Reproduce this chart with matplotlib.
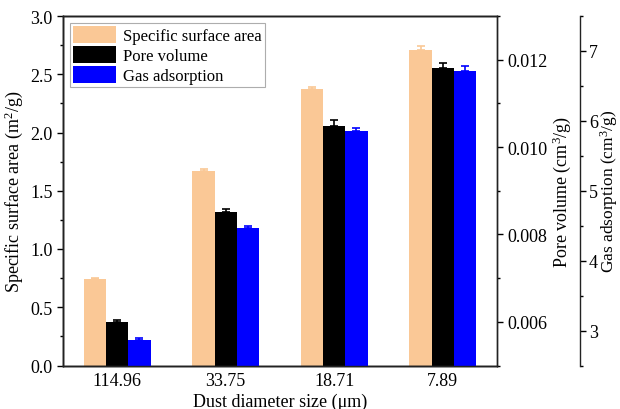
import matplotlib
matplotlib.use("Agg")
import matplotlib.pyplot as plt
from matplotlib.ticker import MultipleLocator
import numpy as np

plt.rcParams['font.family'] = ['Liberation Serif', 'DejaVu Serif']
plt.rcParams['mathtext.fontset'] = 'custom'
plt.rcParams['mathtext.rm'] = 'Liberation Serif'
plt.rcParams['mathtext.it'] = 'Liberation Serif:italic'

categories = ['114.96', '33.75', '18.71', '7.89']
surface_area = [0.746, 1.671, 2.371, 2.711]
surface_err = [0.005, 0.015, 0.022, 0.030]
pore_volume = [0.00599, 0.00851, 0.01049, 0.01180]
pore_err = [0.00006, 0.00008, 0.00012, 0.00013]
gas_adsorption = [2.86, 4.46, 5.85, 6.72]
gas_err = [0.03, 0.04, 0.05, 0.066]

c_orange = '#FAC896'
c_black = '#000000'
c_blue = '#0000FF'

fig = plt.figure(figsize=(6.2, 4.1), dpi=100)
ax = fig.add_axes([63/620, 1-366.5/410, 434/620, 349.5/410])
ax2 = ax.twinx()
ax3 = ax.twinx()
ax3.spines['right'].set_position(('axes', 517/434))

x = np.arange(len(categories))
w = 0.205
fs = 13

b1 = ax.bar(x - w, surface_area, w, color=c_orange, linewidth=0,
            yerr=[np.zeros(4), surface_err], error_kw=dict(ecolor=c_orange, capsize=3, elinewidth=1.2, capthick=1.2),
            label='Specific surface area')
b2 = ax2.bar(x, pore_volume, w, color=c_black, linewidth=0,
             yerr=[np.zeros(4), pore_err], error_kw=dict(ecolor=c_black, capsize=3, elinewidth=1.2, capthick=1.2),
             label='Pore volume')
b3 = ax3.bar(x + w, gas_adsorption, w, color=c_blue, linewidth=0,
             yerr=[np.zeros(4), gas_err], error_kw=dict(ecolor=c_blue, capsize=3, elinewidth=1.2, capthick=1.2),
             label='Gas adsorption')

ax.set_xlim(-0.5, 3.5)
ax.set_ylim(0, 3.0)
ax2.set_ylim(0.005, 0.013)
ax3.set_ylim(2.5, 7.5)

ax.set_xticks(x)
ax.set_xticklabels(categories, fontsize=fs)
ax.tick_params(axis='x', length=0, pad=5)

ax.yaxis.set_major_locator(MultipleLocator(0.5))
ax.yaxis.set_minor_locator(MultipleLocator(0.25))
ax.yaxis.set_major_formatter(matplotlib.ticker.FormatStrFormatter('%.1f'))
ax2.yaxis.set_major_locator(MultipleLocator(0.002))
ax2.yaxis.set_minor_locator(MultipleLocator(0.001))
ax2.yaxis.set_major_formatter(matplotlib.ticker.FormatStrFormatter('%.3f'))
ax3.yaxis.set_major_locator(MultipleLocator(1))
ax3.yaxis.set_minor_locator(MultipleLocator(0.5))

for a in (ax, ax2, ax3):
    a.tick_params(axis='y', which='major', length=4, width=1, labelsize=fs, direction='out')
    a.tick_params(axis='y', which='minor', length=2.5, width=1, direction='out')
    for s in a.spines.values():
        s.set_linewidth(1.0)
        s.set_color('#222222')
ax3.tick_params(axis='y', which='major', pad=2.5)

ax.set_ylabel('Specific surface area (m$^{2}$/g)', fontsize=fs, labelpad=4)
ax2.set_ylabel('Pore volume (cm$^{3}$/g)', fontsize=fs, labelpad=2)
ax3.set_ylabel('Gas adsorption (cm$^{3}$/g)', fontsize=12.5, labelpad=0)
ax.set_xlabel('Dust diameter size (\u03bcm)', fontsize=fs, labelpad=2)

leg = ax.legend(handles=[b1, b2, b3], loc='upper left', fontsize=12,
                frameon=True, fancybox=False, edgecolor='#999999',
                borderpad=0.2, handlelength=2.6, handleheight=1.2,
                handletextpad=0.4, labelspacing=0.1, borderaxespad=0.4)
leg.get_frame().set_linewidth(0.8)

fig.savefig('out.png', dpi=100)
